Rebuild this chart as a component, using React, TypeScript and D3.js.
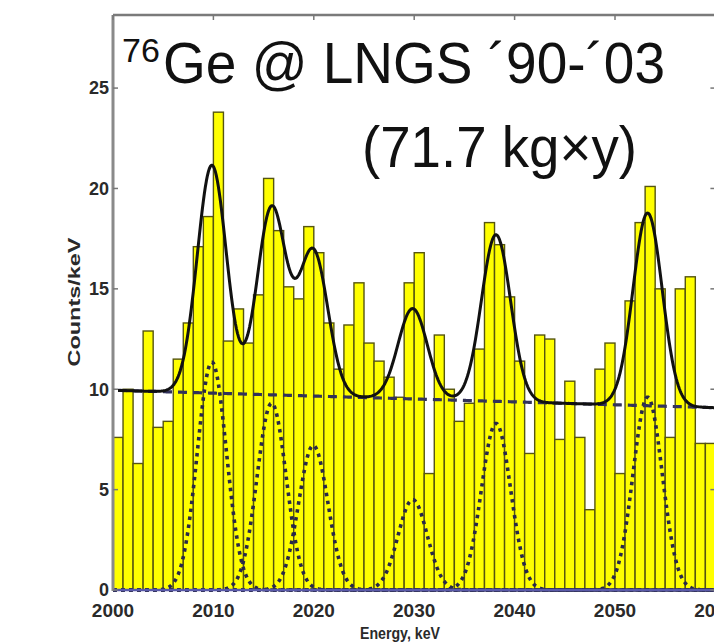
import React from "react";
import * as d3 from "d3";

// Spectrum: counts per 1 keV bin, starting at 2000 keV
const firstBin = 2000;
const counts = [
  7.6, 10.0, 6.3, 12.9, 8.1, 8.4, 11.5, 13.3, 17.1, 18.6,
  23.8, 12.4, 14.0, 12.3, 14.7, 20.5, 17.9, 15.1, 14.5, 18.1,
  16.8, 13.3, 11.0, 13.2, 15.3, 12.3, 11.4, 10.6, 9.6, 15.3,
  16.8, 5.8, 12.7, 10.0, 8.4, 9.3, 12.0, 18.3, 17.2, 14.6,
  11.4, 6.8, 12.7, 12.5, 7.5, 10.4, 7.6, 4.0, 11.0, 12.3,
  5.8, 14.4, 18.3, 20.1, 15.0, 7.6, 15.0, 15.6, 7.3, 7.3,
];

const xTicks = [2000, 2010, 2020, 2030, 2040, 2050, 2060];
const yTicks = [0, 5, 10, 15, 20, 25];

// Fitted lines (Gaussian components) and linear background
const peakCenters = [2009.85, 2015.8, 2019.95, 2029.85, 2038.15, 2053.25];
const peakAmplitudes = [11.35, 9.3, 7.2, 4.5, 8.3, 9.6];
const peakSigma = 1.45;
const bgAt2000 = 9.95;
const bgSlope = -0.0145;

const W = 714;
const H = 644;

const x = d3.scaleLinear().domain([2000, 2060]).range([113, 715.4]);
const y = d3.scaleLinear().domain([0, 28.64]).range([590, 15]);

const background = (e: number) => bgAt2000 + bgSlope * (e - 2000);
const gauss = (e: number, i: number) =>
  peakAmplitudes[i] * Math.exp(-((e - peakCenters[i]) ** 2) / (2 * peakSigma * peakSigma));
const total = (e: number) =>
  background(e) + peakCenters.reduce((s, _c, i) => s + gauss(e, i), 0);

const grid = d3.range(2000.5, 2060.001, 0.1);

const totalPath = d3
  .line<number>()
  .x((e) => x(e))
  .y((e) => y(total(e)))(grid) as string;
const bgPath = d3
  .line<number>()
  .x((e) => x(e))
  .y((e) => y(background(e)))(grid) as string;
const peakPaths = peakCenters.map(
  (_c, i) =>
    d3
      .line<number>()
      .x((e) => x(e))
      .y((e) => y(gauss(e, i)))(d3.range(2000, 2060.001, 0.1)) as string
);

const sans = "'Liberation Sans', Arial, Helvetica, sans-serif";

export default function App() {
  const x0 = x.range()[0];
  const x1 = x.range()[1];
  const yb = y(0);
  const yt = y.range()[1];
  return (
    <svg
      width={W}
      height={H}
      viewBox={`0 0 ${W} ${H}`}
      style={{ position: "absolute", left: 0, top: 0, background: "#fff" }}
    >
      <rect x={0} y={0} width={W} height={H} fill="#fff" />

      {/* histogram */}
      <g>
        {counts.map((c, i) => {
          const e = firstBin + i;
          return (
            <rect
              key={e}
              x={x(e)}
              y={y(c)}
              width={x(e + 1) - x(e)}
              height={yb - y(c)}
              fill="#ffff00"
              stroke="#555510"
              strokeWidth={1.4}
            />
          );
        })}
      </g>

      {/* individual line components */}
      {peakPaths.map((p, i) => (
        <path
          key={i}
          d={p}
          fill="none"
          stroke="#28284a"
          strokeWidth={3.6}
          strokeDasharray="3.5 4.5"
        />
      ))}

      {/* background */}
      <path d={bgPath} fill="none" stroke="#32325a" strokeWidth={3.2} strokeDasharray="9 6" />

      {/* total fit */}
      <path d={totalPath} fill="none" stroke="#111" strokeWidth={3} strokeLinejoin="round" />

      {/* axes frame */}
      <line x1={x0} x2={x1} y1={yb} y2={yb} stroke="#5a5aa8" strokeWidth={2.5} />
      <line x1={x0} x2={x0} y1={yt} y2={yb + 1} stroke="#8a8a8a" strokeWidth={3} />
      <line x1={x0} x2={x1} y1={yt} y2={yt} stroke="#7a7a7a" strokeWidth={2.5} />
      <line x1={x1} x2={x1} y1={yt} y2={yb} stroke="#7a7a7a" strokeWidth={2.5} />

      {/* ticks */}
      {yTicks.map((t) => (
        <g key={"yt" + t}>
          <line x1={x0} x2={x0 + 5} y1={y(t)} y2={y(t)} stroke="#777" strokeWidth={1.5} />
          <line x1={x1 - 5} x2={x1} y1={y(t)} y2={y(t)} stroke="#777" strokeWidth={1.5} />
          <text
            x={x0 - 4}
            y={y(t)}
            dy="0.35em"
            textAnchor="end"
            fontFamily={sans}
            fontWeight="bold"
            fontSize={18}
            fill="#2a2a2a"
          >
            {t}
          </text>
        </g>
      ))}
      {xTicks.map((t) => (
        <g key={"xt" + t}>
          <line x1={x(t)} x2={x(t)} y1={yt} y2={yt + 5} stroke="#777" strokeWidth={1.5} />
          <text
            x={x(t)}
            y={617}
            textAnchor="middle"
            fontFamily={sans}
            fontWeight="bold"
            fontSize={19}
            fill="#2a2a2a"
          >
            {t}
          </text>
        </g>
      ))}

      {/* axis titles */}
      <text
        x={400}
        y={639}
        textAnchor="middle"
        fontFamily={sans}
        fontWeight="bold"
        fontSize={17}
        fill="#2a2a2a"
        textLength={80}
        lengthAdjust="spacingAndGlyphs"
      >
        Energy, keV
      </text>
      <text
        transform="translate(80,302) rotate(-90)"
        textAnchor="middle"
        fontFamily={sans}
        fontWeight="bold"
        fontSize={17}
        fill="#2a2a2a"
        textLength={129}
        lengthAdjust="spacingAndGlyphs"
      >
        Counts/keV
      </text>

      {/* headline */}
      <text x={122} y={62} fontFamily={sans} fontSize={34} fill="#111">
        76
      </text>
      <text
        x={163}
        y={83}
        fontFamily={sans}
        fontSize={58}
        fill="#111"
        textLength={502}
        lengthAdjust="spacingAndGlyphs"
      >
        Ge @ LNGS ´90-´03
      </text>
      <text
        x={362}
        y={167}
        fontFamily={sans}
        fontSize={58}
        fill="#111"
        textLength={275}
        lengthAdjust="spacingAndGlyphs"
      >
        (71.7 kg×y)
      </text>
    </svg>
  );
}
